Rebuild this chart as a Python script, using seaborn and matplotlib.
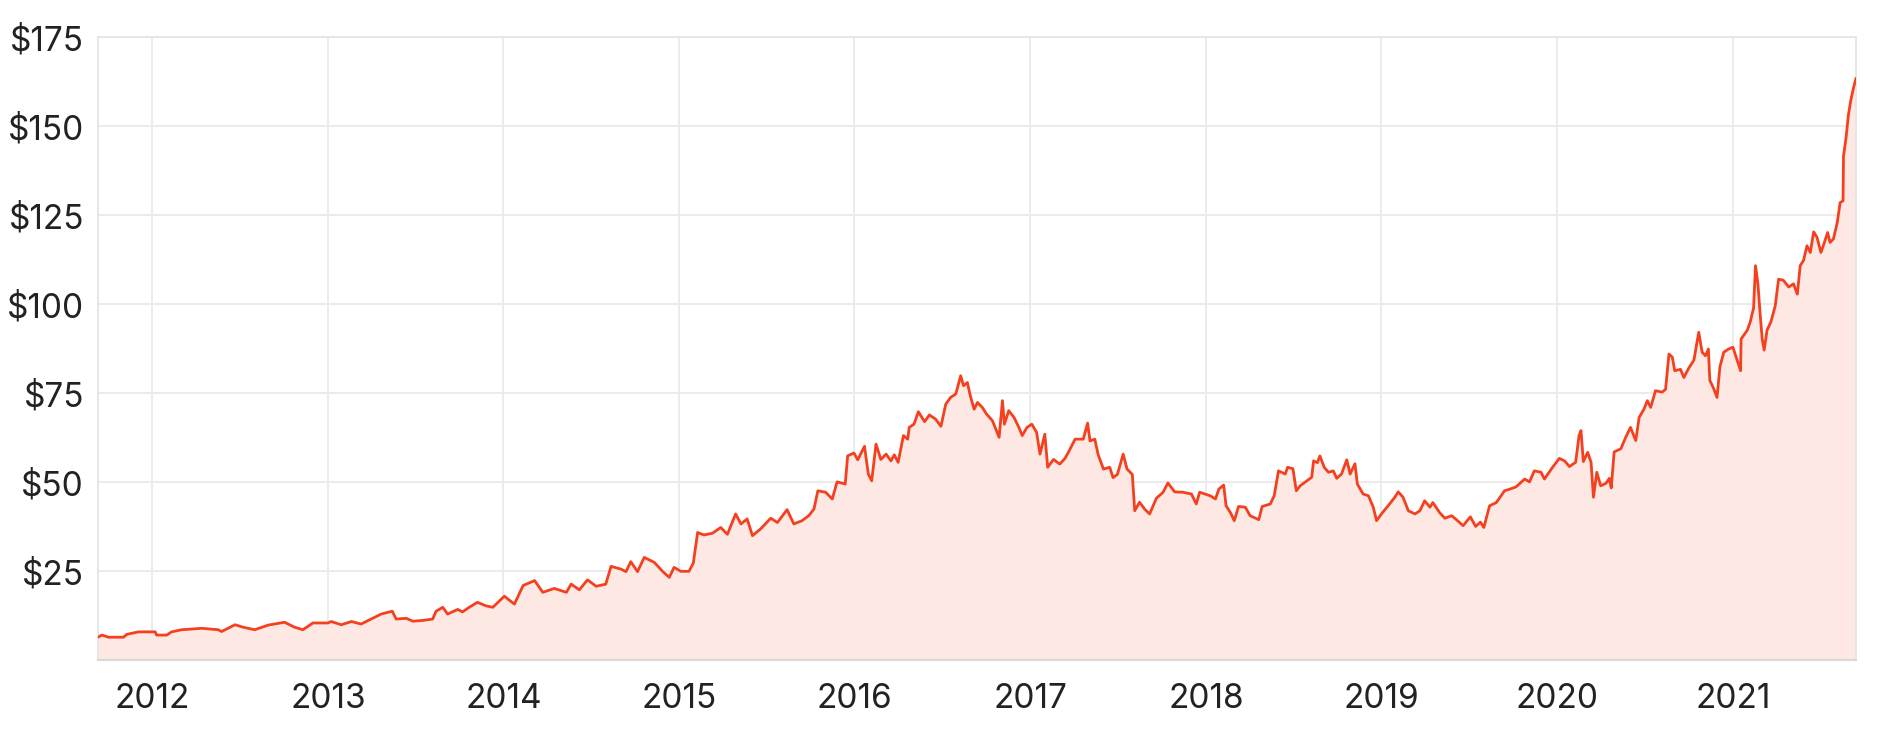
import matplotlib
matplotlib.use("Agg")
import matplotlib.pyplot as plt
import matplotlib.ticker as mticker
import matplotlib.dates as mdates
import seaborn as sns
import pandas as pd

dates = [
    "2011-09-11", "2011-09-19", "2011-10-03", "2011-11-03", "2011-11-10", "2011-12-04",
    "2012-01-08", "2012-01-11", "2012-02-01", "2012-02-11", "2012-03-03", "2012-04-14",
    "2012-05-18", "2012-05-25", "2012-06-22", "2012-07-09", "2012-08-02", "2012-08-30",
    "2012-10-03", "2012-10-24", "2012-11-10", "2012-12-01",
    "2013-01-01", "2013-01-08", "2013-01-29", "2013-02-19", "2013-03-11", "2013-04-01",
    "2013-04-22", "2013-05-15", "2013-05-23", "2013-06-13", "2013-06-27", "2013-07-17",
    "2013-08-07", "2013-08-14", "2013-08-28", "2013-09-07", "2013-09-28", "2013-10-08",
    "2013-10-22", "2013-11-08", "2013-11-26", "2013-12-10",
    "2014-01-03", "2014-01-24", "2014-02-11", "2014-03-07", "2014-03-24", "2014-04-17",
    "2014-05-12", "2014-05-22", "2014-06-08", "2014-06-25", "2014-07-13", "2014-08-02",
    "2014-08-13", "2014-09-03", "2014-09-13", "2014-09-23", "2014-10-07", "2014-10-21",
    "2014-11-11", "2014-11-28", "2014-12-12", "2014-12-22",
    "2015-01-05", "2015-01-22", "2015-01-31", "2015-02-09", "2015-02-22", "2015-03-12",
    "2015-03-29", "2015-04-12", "2015-04-29", "2015-05-10", "2015-05-23", "2015-06-03",
    "2015-06-20", "2015-07-11", "2015-07-25", "2015-08-14", "2015-08-28", "2015-09-14",
    "2015-09-28", "2015-10-09", "2015-10-17", "2015-11-02", "2015-11-16", "2015-11-26",
    "2015-12-13", "2015-12-18", "2015-12-31",
    "2016-01-08", "2016-01-22", "2016-01-30", "2016-02-06", "2016-02-15", "2016-02-25",
    "2016-03-07", "2016-03-17", "2016-03-24", "2016-04-01", "2016-04-12", "2016-04-21",
    "2016-04-24", "2016-05-04", "2016-05-13", "2016-05-26", "2016-06-05", "2016-06-18",
    "2016-06-29", "2016-07-09", "2016-07-19", "2016-07-30", "2016-08-09", "2016-08-15",
    "2016-08-23", "2016-08-29", "2016-09-06", "2016-09-13", "2016-09-23", "2016-10-02",
    "2016-10-14", "2016-10-28", "2016-11-04", "2016-11-08", "2016-11-17", "2016-11-28",
    "2016-12-08", "2016-12-15", "2016-12-25",
    "2017-01-04", "2017-01-14", "2017-01-21", "2017-01-31", "2017-02-06", "2017-02-18",
    "2017-03-03", "2017-03-14", "2017-03-21", "2017-04-04", "2017-04-21", "2017-04-30",
    "2017-05-05", "2017-05-15", "2017-05-22", "2017-06-02", "2017-06-15", "2017-06-22",
    "2017-07-01", "2017-07-13", "2017-07-21", "2017-08-01", "2017-08-06", "2017-08-16",
    "2017-08-27", "2017-09-06", "2017-09-20", "2017-10-04", "2017-10-14", "2017-10-28",
    "2017-11-14", "2017-12-02", "2017-12-12", "2017-12-19",
    "2018-01-10", "2018-01-21", "2018-01-28", "2018-02-07", "2018-02-12", "2018-02-21",
    "2018-03-01", "2018-03-10", "2018-03-24", "2018-04-03", "2018-04-21", "2018-04-28",
    "2018-05-15", "2018-05-23", "2018-06-01", "2018-06-15", "2018-06-20", "2018-07-01",
    "2018-07-08", "2018-07-16", "2018-07-30", "2018-08-09", "2018-08-13", "2018-08-21",
    "2018-08-26", "2018-09-04", "2018-09-13", "2018-09-23", "2018-09-30", "2018-10-10",
    "2018-10-21", "2018-10-28", "2018-11-07", "2018-11-12", "2018-11-24", "2018-12-05",
    "2018-12-15", "2018-12-22",
    "2019-01-01", "2019-01-15", "2019-01-29", "2019-02-05", "2019-02-15", "2019-02-26",
    "2019-03-12", "2019-03-22", "2019-04-01", "2019-04-12", "2019-04-18", "2019-05-02",
    "2019-05-13", "2019-05-27", "2019-06-06", "2019-06-20", "2019-07-05", "2019-07-16",
    "2019-07-26", "2019-08-02", "2019-08-14", "2019-08-28", "2019-09-14", "2019-09-28",
    "2019-10-08", "2019-10-26", "2019-11-05", "2019-11-15", "2019-11-29", "2019-12-06",
    "2019-12-23",
    "2020-01-06", "2020-01-17", "2020-01-27", "2020-02-09", "2020-02-16", "2020-02-20",
    "2020-02-25", "2020-03-05", "2020-03-12", "2020-03-17", "2020-03-24", "2020-04-01",
    "2020-04-12", "2020-04-19", "2020-04-23", "2020-04-29", "2020-05-13", "2020-05-23",
    "2020-06-02", "2020-06-13", "2020-06-20", "2020-06-30", "2020-07-07", "2020-07-14",
    "2020-07-24", "2020-08-07", "2020-08-14", "2020-08-21", "2020-08-28", "2020-09-02",
    "2020-09-14", "2020-09-21", "2020-10-01", "2020-10-12", "2020-10-17", "2020-10-22",
    "2020-10-29", "2020-11-05", "2020-11-11", "2020-11-14", "2020-11-22", "2020-11-29",
    "2020-12-05", "2020-12-13", "2020-12-23",
    "2021-01-01", "2021-01-10", "2021-01-17", "2021-01-18", "2021-01-31", "2021-02-06",
    "2021-02-13", "2021-02-17", "2021-02-22", "2021-02-27", "2021-03-03", "2021-03-07",
    "2021-03-13", "2021-03-21", "2021-03-30", "2021-04-06", "2021-04-16", "2021-04-27",
    "2021-05-07", "2021-05-15", "2021-05-21", "2021-05-28", "2021-06-04", "2021-06-11",
    "2021-06-18", "2021-06-25", "2021-07-03", "2021-07-08", "2021-07-17", "2021-07-22",
    "2021-07-29", "2021-08-06", "2021-08-12", "2021-08-18", "2021-08-19", "2021-08-24",
    "2021-08-29", "2021-09-03", "2021-09-09", "2021-09-14",
]

prices = [
    6.4, 7.0, 6.4, 6.4, 7.2, 7.9,
    7.9, 7.0, 7.0, 7.9, 8.5, 8.9,
    8.5, 8.0, 9.9, 9.2, 8.5, 9.8,
    10.6, 9.2, 8.5, 10.4,
    10.4, 10.8, 9.9, 10.8, 10.1, 11.5,
    12.9, 13.7, 11.5, 11.7, 10.9, 11.1,
    11.5, 13.7, 14.8, 12.9, 14.2, 13.5,
    14.8, 16.2, 15.2, 14.8,
    17.9, 15.7, 20.9, 22.3, 19.0, 20.1,
    19.0, 21.3, 19.7, 22.5, 20.7, 21.3,
    26.3, 25.5, 24.8, 27.6, 24.8, 28.8,
    27.4, 24.9, 23.2, 26.0,
    24.9, 24.9, 27.2, 35.8, 35.1, 35.6,
    37.2, 35.3, 41.0, 38.2, 39.6, 34.9,
    36.8, 39.8, 38.6, 42.2, 38.2, 39.1,
    40.5, 42.4, 47.5, 47.1, 45.2, 50.0,
    49.4, 57.3, 58.1,
    56.2, 60.0, 52.2, 50.3, 60.6, 56.3,
    57.8, 55.9, 57.6, 55.5, 63.0, 62.0,
    65.3, 66.2, 69.7, 66.9, 68.8, 67.6,
    65.6, 71.8, 73.7, 74.7, 79.8, 77.0,
    77.9, 74.2, 70.4, 72.3, 70.9, 69.0,
    67.2, 62.5, 72.8, 66.2, 70.0, 68.1,
    65.3, 63.0, 65.3,
    66.2, 63.9, 57.8, 63.4, 54.1, 56.3,
    55.0, 56.6, 58.3, 62.0, 62.0, 66.5,
    61.5, 62.0, 57.6, 53.6, 54.1, 51.2,
    52.1, 57.8, 53.6, 52.1, 41.9, 44.3,
    42.3, 41.0, 45.4, 47.1, 49.7, 47.2,
    47.1, 46.6, 43.8, 47.1,
    46.1, 45.2, 48.0, 49.1, 43.3, 41.4,
    39.1, 43.1, 42.9, 40.5, 39.4, 43.1,
    43.8, 46.1, 53.1, 52.2, 54.1, 53.7,
    47.5, 48.9, 50.3, 51.3, 55.9, 55.4,
    57.3, 54.1, 52.7, 53.1, 51.0, 52.2,
    56.2, 52.2, 55.1, 49.4, 46.6, 46.1,
    42.9, 39.1,
    41.0, 43.3, 45.7, 47.2, 45.7, 41.9,
    41.0, 41.9, 44.7, 42.9, 44.2, 41.4,
    39.8, 40.5, 39.4, 37.7, 40.2, 37.5,
    38.7, 37.2, 43.3, 44.2, 47.5, 48.1,
    48.6, 50.8, 50.0, 53.1, 52.7, 50.8,
    54.1,
    56.6, 55.9, 54.3, 55.5, 63.0, 64.4,
    55.7, 58.3, 55.5, 45.7, 52.7, 48.9,
    49.6, 51.0, 48.3, 58.4, 59.3, 62.5,
    65.3, 61.6, 68.1, 70.4, 72.8, 70.9,
    75.6, 75.2, 76.0, 85.9, 85.0, 81.2,
    81.6, 79.3, 81.9, 84.2, 88.2, 92.0,
    86.4, 85.4, 87.3, 78.5, 76.2, 73.7,
    82.3, 86.4, 87.3,
    87.8, 84.1, 81.2, 90.1, 92.6, 94.9,
    98.8, 110.7, 105.6, 96.5, 90.1, 87.0,
    92.6, 94.9, 99.4, 106.9, 106.6, 104.7,
    105.6, 102.7, 110.7, 112.2, 116.3, 114.4,
    120.2, 118.6, 114.4, 116.3, 120.0, 117.2,
    118.2, 122.8, 128.4, 128.9, 141.5, 146.2,
    152.8, 157.0, 160.7, 163.3,
]

y_ticks = [25, 50, 75, 100, 125, 150, 175]
x_tick_years = list(range(2012, 2022))

df = pd.DataFrame({"date": pd.to_datetime(dates), "price": prices})

sns.set_theme(style="white")
plt.rcParams["font.family"] = ["Inter", "DejaVu Sans"]

LINE = "#F4401F"
FILL = "#FDE8E4"
GRID = "#EBEBEB"
TEXT = "#222222"

fig = plt.figure(figsize=(18.83, 7.349), dpi=100)
ax = fig.add_axes([98 / 1883, 1 - 661 / 735, (1856 - 98) / 1883, (661 - 37.5) / 735])

ax.fill_between(df["date"], df["price"], 0, color=FILL, linewidth=0, zorder=1)
sns.lineplot(data=df, x="date", y="price", ax=ax, color=LINE, linewidth=2.0, zorder=3)

ax.set_xlim(df["date"].min(), df["date"].max())
ax.set_ylim(0, 175)
ax.set_yticks(y_ticks)
ax.yaxis.set_major_formatter(mticker.FuncFormatter(lambda v, p: f"${v:.0f}"))
ax.set_xticks([pd.Timestamp(f"{y}-01-01") for y in x_tick_years])
ax.xaxis.set_major_formatter(mdates.DateFormatter("%Y"))

ax.grid(True, color=GRID, linewidth=1.4, zorder=0)
ax.set_axisbelow(True)
ax.set_xlabel("")
ax.set_ylabel("")
ax.tick_params(axis="both", length=0, labelsize=24, colors=TEXT)
ax.tick_params(axis="x", pad=16)
ax.tick_params(axis="y", pad=10)
for s in ["top", "right", "left"]:
    ax.spines[s].set_color("#E6E6E6")
    ax.spines[s].set_linewidth(1.4)
ax.spines["bottom"].set_color("#D9D9D9")
ax.spines["bottom"].set_linewidth(1.6)

fig.savefig("out.png", dpi=100, facecolor="white")
